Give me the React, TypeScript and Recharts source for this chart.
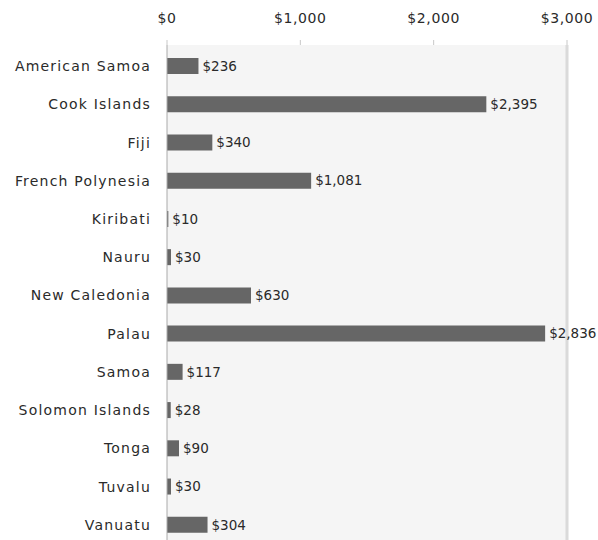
import React from "react";
import {
  BarChart,
  Bar,
  XAxis,
  YAxis,
  CartesianGrid,
  ReferenceLine,
  LabelList,
} from "recharts";

const COUNTRIES = [
  "American Samoa",
  "Cook Islands",
  "Fiji",
  "French Polynesia",
  "Kiribati",
  "Nauru",
  "New Caledonia",
  "Palau",
  "Samoa",
  "Solomon Islands",
  "Tonga",
  "Tuvalu",
  "Vanuatu",
];

const VALUES = [236, 2395, 340, 1081, 10, 30, 630, 2836, 117, 28, 90, 30, 304];

const X_TICKS = [0, 1000, 2000, 3000];

const FONT = "'DejaVu Sans', 'Liberation Sans', Arial, sans-serif";

const data = COUNTRIES.map((name, i) => ({ name, value: VALUES[i] }));

const money = (v: number) => `$${Number(v).toLocaleString("en-US")}`;

const textStyle = { fontSize: 14, fill: "#2a2a2a", letterSpacing: 1.2 };

export default function App() {
  return (
    <div style={{ width: 598, height: 540, overflow: "hidden", background: "#fff" }}>
      <style>{"body{margin:0}"}</style>
      <BarChart
        width={598}
        height={550}
        data={data}
        layout="vertical"
        margin={{ top: 0, right: 31, bottom: 6, left: 0 }}
        barCategoryGap={11}
        style={{ fontFamily: FONT }}
      >
        <CartesianGrid fill="#f5f5f5" horizontal={false} vertical={false} />
        <XAxis
          type="number"
          orientation="top"
          domain={[0, 3000]}
          ticks={X_TICKS}
          height={45}
          axisLine={false}
          tickLine={{ stroke: "#c8c8c8" }}
          tickSize={5}
          tickMargin={17}
          tickFormatter={money}
          tick={{ ...textStyle, letterSpacing: 0.6 }}
          interval={0}
        />
        <YAxis
          type="category"
          dataKey="name"
          width={167}
          axisLine={{ stroke: "#aaa" }}
          tickLine={false}
          tickSize={0}
          tickMargin={16}
          padding={{ top: 2, bottom: 0 }}
          tick={textStyle}
          interval={0}
        />
        <ReferenceLine x={3000} stroke="#dadada" strokeWidth={3} />
        <Bar dataKey="value" fill="#666" isAnimationActive={false}>
          <LabelList
            dataKey="value"
            position="right"
            offset={4}
            formatter={(v: any) => money(v)}
            style={{ ...textStyle, fontSize: 13.5, letterSpacing: 0, fontFamily: FONT }}
          />
        </Bar>
      </BarChart>
    </div>
  );
}
